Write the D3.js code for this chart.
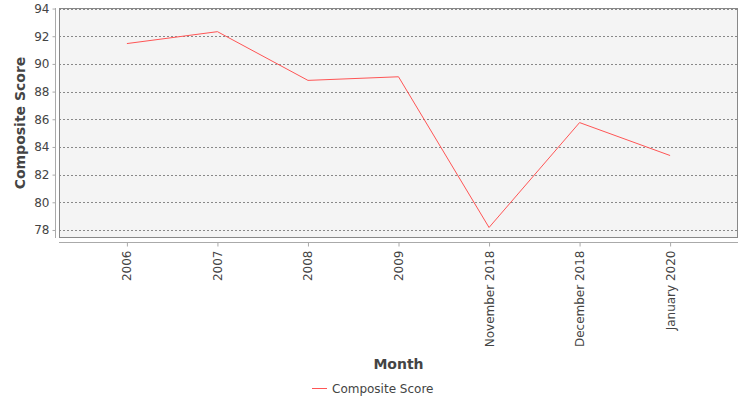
<!DOCTYPE html>
<html>
<head>
<meta charset="utf-8">
<script src="https://cdn.jsdelivr.net/npm/d3@7"></script>
<style>
  html, body { margin: 0; padding: 0; background: #fff; }
  svg { display: block; font-family: "DejaVu Sans", sans-serif; }
</style>
</head>
<body>
<div id="chart"></div>
<script>
  // ---- data ----
  const months = ["2006", "2007", "2008", "2009", "November 2018", "December 2018", "January 2020"];
  const scores = [91.47, 92.33, 88.81, 89.07, 78.18, 85.76, 83.38];
  const yTicks = [78, 80, 82, 84, 86, 88, 90, 92, 94];
  const seriesName = "Composite Score";

  const W = 750, H = 400;
  const plot = { left: 59, right: 738, top: 8, bottom: 238 };

  const svg = d3.select("#chart").append("svg").attr("width", W).attr("height", H);

  const x = d3.scalePoint().domain(months).range([plot.left, plot.right]).padding(0.75);
  const y = d3.scaleLinear().domain([77.42, 94.04]).range([plot.bottom, plot.top]);

  // plot background
  svg.append("rect")
    .attr("x", plot.left).attr("y", plot.top)
    .attr("width", plot.right - plot.left).attr("height", plot.bottom - plot.top)
    .attr("fill", "#f4f4f4");

  // gridlines (dashed, grey)
  svg.append("g").selectAll("line").data(yTicks).join("line")
    .attr("x1", plot.left).attr("x2", plot.right)
    .attr("y1", (d) => Math.round(y(d)) + 0.5).attr("y2", (d) => Math.round(y(d)) + 0.5)
    .attr("stroke", "#888").attr("stroke-width", 1).attr("stroke-dasharray", "2 2");

  // plot border
  svg.append("rect")
    .attr("x", plot.left + 0.5).attr("y", plot.top + 0.5)
    .attr("width", plot.right - plot.left - 1).attr("height", plot.bottom - plot.top - 1)
    .attr("fill", "none").attr("stroke", "#888").attr("stroke-width", 1);

  // y axis
  const yAxis = svg.append("g")
    .attr("transform", "translate(55.5,0)")
    .call(d3.axisLeft(y).tickValues(yTicks).tickSize(3).tickPadding(3).tickFormat(d3.format("d")));
  yAxis.select(".domain").attr("stroke", "#aaa").attr("d", `M0,${plot.top}V${plot.bottom}`);
  yAxis.selectAll(".tick line").attr("stroke", "#aaa");
  yAxis.selectAll(".tick text").attr("fill", "#444").attr("font-size", 12)
    .attr("font-family", "DejaVu Sans, sans-serif");

  // x axis, labels turned upright
  const xAxis = svg.append("g")
    .attr("transform", "translate(0,242.5)")
    .call(d3.axisBottom(x).tickSize(4).tickSizeOuter(0));
  xAxis.select(".domain").attr("stroke", "#aaa").attr("d", `M${plot.left},0H${plot.right}`);
  xAxis.selectAll(".tick line").attr("stroke", "#aaa");
  xAxis.selectAll(".tick text")
    .attr("fill", "#444").attr("font-size", 12).attr("font-family", "DejaVu Sans, sans-serif")
    .attr("text-anchor", "end").attr("dy", null)
    .attr("transform", "rotate(-90)")
    .attr("x", -8).attr("y", 0).attr("dominant-baseline", "central");

  // axis titles
  svg.append("text")
    .attr("transform", `translate(25,${(plot.top + plot.bottom) / 2}) rotate(-90)`)
    .attr("text-anchor", "middle").attr("font-size", 14).attr("font-weight", "bold")
    .attr("fill", "#444").text("Composite Score");
  svg.append("text")
    .attr("x", (plot.left + plot.right) / 2).attr("y", 369)
    .attr("text-anchor", "middle").attr("font-size", 14).attr("font-weight", "bold")
    .attr("fill", "#444").text("Month");

  // series line
  const line = d3.line().x((d, i) => x(months[i])).y((d) => y(d));
  svg.append("path").datum(scores)
    .attr("d", line).attr("fill", "none")
    .attr("stroke", "#ff5555").attr("stroke-width", 1);

  // legend
  const lg = svg.append("g").attr("transform", "translate(312,388)");
  lg.append("line").attr("x1", 0).attr("x2", 15).attr("y1", 0.5).attr("y2", 0.5)
    .attr("stroke", "#ff5555").attr("stroke-width", 1);
  lg.append("text").attr("x", 20).attr("y", 4.5)
    .attr("font-size", 12).attr("fill", "#444").text(seriesName);
</script>
</body>
</html>
